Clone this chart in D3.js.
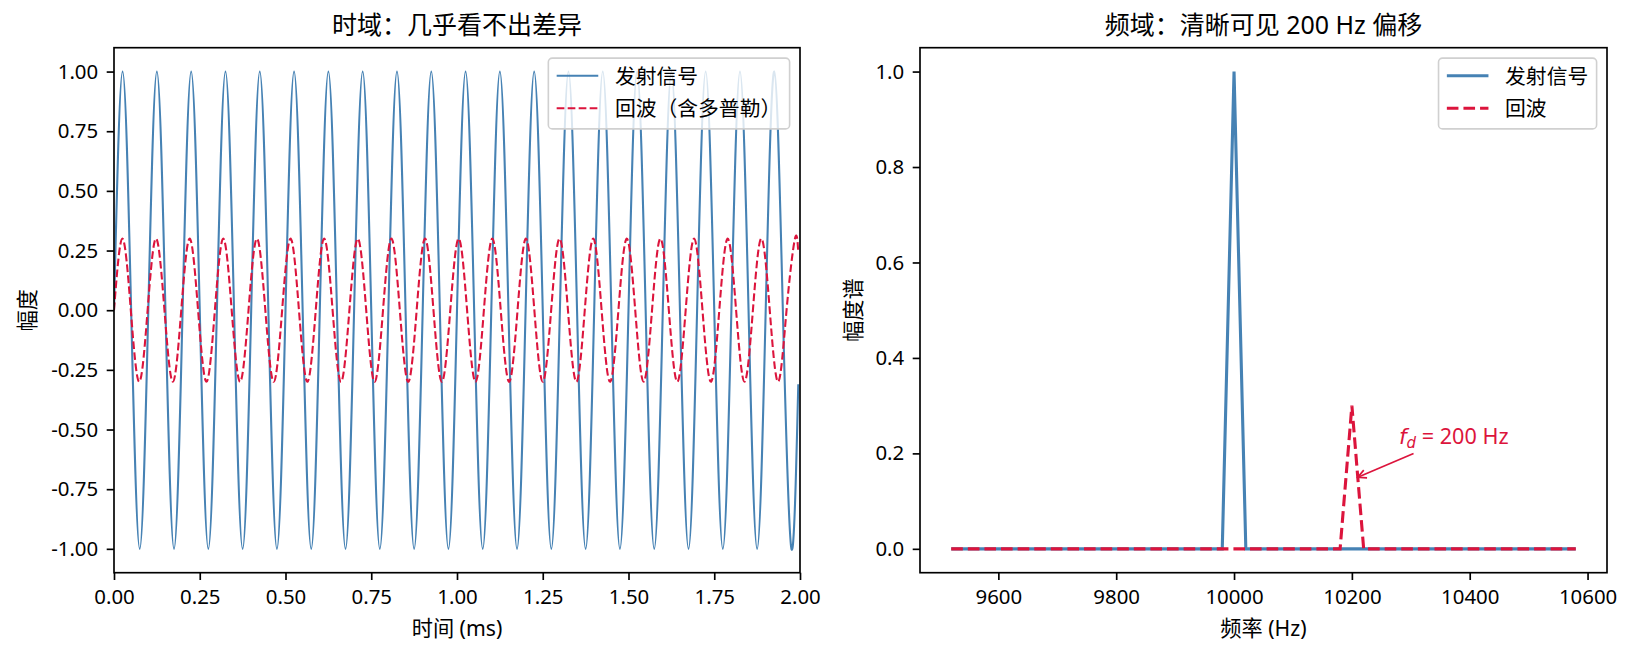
<!DOCTYPE html>
<html>
<head>
<meta charset="utf-8">
<script src="https://cdn.jsdelivr.net/npm/d3@7"></script>
<style>
  body { margin: 0; background: #fff; }
  text { font-family: "Noto Sans", "Noto Sans CJK SC", sans-serif; fill: #000; }
</style>
</head>
<body>
<svg id="chart" width="1633" height="658"></svg>
<script>
// time domain: peaks / zero crossings (ms, amplitude)
var txTime = [0,0.025,0.05,0.075,0.1,0.125,0.15,0.175,0.2,0.225,0.25,0.275,0.3,0.325,0.35,0.375,0.4,0.425,0.45,0.475,
  0.5,0.525,0.55,0.575,0.6,0.625,0.65,0.675,0.7,0.725,0.75,0.775,0.8,0.825,0.85,0.875,0.9,0.925,0.95,0.975,
  1,1.025,1.05,1.075,1.1,1.125,1.15,1.175,1.2,1.225,1.25,1.275,1.3,1.325,1.35,1.375,1.4,1.425,1.45,1.475,
  1.5,1.525,1.55,1.575,1.6,1.625,1.65,1.675,1.7,1.725,1.75,1.775,1.8,1.825,1.85,1.875,1.9,1.925,1.95,1.975,1.995];
var txAmp = [0,1,0,-1,0,1,0,-1,0,1,0,-1,0,1,0,-1,0,1,0,-1,
  0,1,0,-1,0,1,0,-1,0,1,0,-1,0,1,0,-1,0,1,0,-1,
  0,1,0,-1,0,1,0,-1,0,1,0,-1,0,1,0,-1,0,1,0,-1,
  0,1,0,-1,0,1,0,-1,0,1,0,-1,0,1,0,-1,0,1,0,-1,-0.31];

var rxTime = [0,0.0245,0.049,0.0735,0.098,0.1225,0.1471,0.1716,0.1961,0.2206,0.2451,0.2696,0.2941,0.3186,0.3431,0.3676,
  0.3922,0.4167,0.4412,0.4657,0.4902,0.5147,0.5392,0.5637,0.5882,0.6127,0.6373,0.6618,0.6863,0.7108,0.7353,0.7598,
  0.7843,0.8088,0.8333,0.8578,0.8824,0.9069,0.9314,0.9559,0.9804,1.0049,1.0294,1.0539,1.0784,1.1029,1.1275,1.152,
  1.1765,1.201,1.2255,1.25,1.2745,1.299,1.3235,1.348,1.3725,1.3971,1.4216,1.4461,1.4706,1.4951,1.5196,1.5441,
  1.5686,1.5931,1.6176,1.6422,1.6667,1.6912,1.7157,1.7402,1.7647,1.7892,1.8137,1.8382,1.8627,1.8873,1.9118,1.9363,
  1.9608,1.9853,1.995];
var rxAmp = [0,0.3,0,-0.3,0,0.3,0,-0.3,0,0.3,0,-0.3,0,0.3,0,-0.3,0,0.3,0,-0.3,
  0,0.3,0,-0.3,0,0.3,0,-0.3,0,0.3,0,-0.3,0,0.3,0,-0.3,0,0.3,0,-0.3,
  0,0.3,0,-0.3,0,0.3,0,-0.3,0,0.3,0,-0.3,0,0.3,0,-0.3,0,0.3,0,-0.3,
  0,0.3,0,-0.3,0,0.3,0,-0.3,0,0.3,0,-0.3,0,0.3,0,-0.3,0,0.3,0,-0.3,
  0,0.3,0.24];

// spectrum (Hz, magnitude)
var txFreq = [9520, 9980, 10000, 10020, 10580];
var txMag = [0, 0, 1, 0, 0];
var rxFreq = [9520, 10180, 10200, 10220, 10580];
var rxMag = [0, 0, 0.3, 0, 0];

var timeTicks = [0, 0.25, 0.5, 0.75, 1, 1.25, 1.5, 1.75, 2];
var ampTicks = [-1, -0.75, -0.5, -0.25, 0, 0.25, 0.5, 0.75, 1];
var freqTicks = [9600, 9800, 10000, 10200, 10400, 10600];
var specTicks = [0, 0.2, 0.4, 0.6, 0.8, 1.0];

var titles = ["时域：几乎看不出差异", "频域：清晰可见 200 Hz 偏移"];
var xLabels = ["时间 (ms)", "频率 (Hz)"];
var yLabels = ["幅度", "幅度谱"];
var legendLeft = ["发射信号", "回波（含多普勒）"];
var legendRight = ["发射信号", "回波"];
var annoText = [10280, 0.22];
var annoTip = [10210, 0.15];

var BLUE = "steelblue", RED = "crimson";
var plotTop = 47.7, plotBottom = 572.7;

var svg = d3.select("#chart");

function panel(x0, x1, xDomain, yDomain, xTicks, yTicks, xFmt, yFmt, idx) {
    var x = d3.scaleLinear().domain(xDomain).range([x0, x1]);
    var y = d3.scaleLinear().domain(yDomain).range([plotBottom, plotTop]);

    svg.append("clipPath").attr("id", "clip" + idx)
        .append("rect").attr("x", x0).attr("y", plotTop)
        .attr("width", x1 - x0).attr("height", plotBottom - plotTop);

    var xa = svg.append("g").attr("transform", "translate(0," + plotBottom + ")")
        .call(d3.axisBottom(x).tickValues(xTicks).tickFormat(xFmt).tickSize(7.3).tickPadding(9.3));
    var ya = svg.append("g").attr("transform", "translate(" + x0 + ",0)")
        .call(d3.axisLeft(y).tickValues(yTicks).tickFormat(yFmt).tickSize(7.3).tickPadding(8.5));
    [xa, ya].forEach(function (a) {
        a.select(".domain").remove();
        a.selectAll("line").attr("stroke", "#000").attr("stroke-width", 1.67);
        a.selectAll("text").style("font-size", "20.4px")
            .style("font-family", '"Noto Sans", "Noto Sans CJK SC", sans-serif').attr("fill", "#000");
    });

    svg.append("text").attr("x", (x0 + x1) / 2).attr("y", 34)
        .attr("text-anchor", "middle").style("font-size", "25px").text(titles[idx]);
    svg.append("text").attr("x", (x0 + x1) / 2).attr("y", 636)
        .attr("text-anchor", "middle").style("font-size", "21.2px").text(xLabels[idx]);
    var yl = idx == 0 ? 26.5 : 853;
    svg.append("text").attr("transform", "translate(" + yl + "," + (plotTop + plotBottom) / 2 + ") rotate(-90)")
        .attr("text-anchor", "middle").attr("dy", "0.38em").style("font-size", "21.2px").text(yLabels[idx]);

    return { x: x, y: y, x0: x0, x1: x1 };
}

function frame(p) {
    svg.append("rect").attr("x", p.x0).attr("y", plotTop)
        .attr("width", p.x1 - p.x0).attr("height", plotBottom - plotTop)
        .attr("fill", "none").attr("stroke", "#000").attr("stroke-width", 1.67);
}

function legend(p, labels, lw, dash) {
    var fs = 20.8, pad = 0.4 * fs, handle = 2 * fs, gap = 0.8 * fs;
    var g = svg.append("g");
    var box = g.append("rect");
    var texts = labels.map(function (l, i) {
        return g.append("text").attr("dy", "0.38em").style("font-size", fs + "px").text(l);
    });
    var tw = d3.max(texts, function (t) { return t.node().getComputedTextLength(); });
    var w = pad + handle + gap + tw + pad, h = 70.8;
    var bx = p.x1 - 0.5 * fs - w, by = plotTop + 0.5 * fs;
    box.attr("x", bx).attr("y", by).attr("width", w).attr("height", h)
        .attr("rx", 4).attr("fill", "#fff").attr("fill-opacity", 0.8)
        .attr("stroke", "#d0d0d0").attr("stroke-width", 1.6);
    var rows = [by + 17.6, by + 50.2];
    texts.forEach(function (t, i) { t.attr("x", bx + pad + handle + gap).attr("y", rows[i]); });
    g.append("line").attr("x1", bx + pad).attr("x2", bx + pad + handle)
        .attr("y1", rows[0]).attr("y2", rows[0]).attr("stroke", BLUE).attr("stroke-width", lw);
    g.append("line").attr("x1", bx + pad).attr("x2", bx + pad + handle)
        .attr("y1", rows[1]).attr("y2", rows[1]).attr("stroke", RED).attr("stroke-width", lw)
        .attr("stroke-dasharray", dash);
}

// left: time domain
var L = panel(114, 800, [0, 2], [-1.1, 1.1], timeTicks, ampTicks,
    function (d) { return d.toFixed(2); }, function (d) { return d.toFixed(2); }, 0);

var lineL = d3.line().curve(d3.curveNatural)
    .x(function (d) { return L.x(d[0]); })
    .y(function (d) { return L.y(d[1]); });

svg.append("path").datum(d3.zip(txTime, txAmp))
    .attr("clip-path", "url(#clip0)")
    .attr("fill", "none").attr("stroke", BLUE).attr("stroke-width", 2.08)
    .attr("d", lineL);
svg.append("path").datum(d3.zip(rxTime, rxAmp))
    .attr("clip-path", "url(#clip0)")
    .attr("fill", "none").attr("stroke", RED).attr("stroke-width", 2.08)
    .attr("stroke-dasharray", "7.7,3.3")
    .attr("d", lineL);
frame(L);
legend(L, legendLeft, 2.08, "7.7,3.3");

// right: spectrum
var R = panel(920, 1607, [9467, 10633], [-0.05, 1.05], freqTicks, specTicks,
    function (d) { return d; }, function (d) { return d.toFixed(1); }, 1);

var lineR = d3.line()
    .x(function (d) { return R.x(d[0]); })
    .y(function (d) { return R.y(d[1]); });

svg.append("path").datum(d3.zip(txFreq, txMag))
    .attr("clip-path", "url(#clip1)")
    .attr("fill", "none").attr("stroke", BLUE).attr("stroke-width", 3.1)
    .attr("d", lineR);
svg.append("path").datum(d3.zip(rxFreq, rxMag))
    .attr("clip-path", "url(#clip1)")
    .attr("fill", "none").attr("stroke", RED).attr("stroke-width", 3.1)
    .attr("stroke-dasharray", "11.6,5")
    .attr("d", lineR);

// annotation f_d = 200 Hz with arrow
var at = svg.append("text").attr("x", R.x(annoText[0])).attr("y", R.y(annoText[1]))
    .style("font-size", "21.6px").style("fill", RED);
at.append("tspan").style("font-style", "italic").style("font-family", "DejaVu Sans").text("f");
at.append("tspan").style("font-style", "italic").style("font-family", "DejaVu Sans")
    .style("font-size", "15px").attr("dy", 4).text("d");
at.append("tspan").attr("dy", -4).text(" = 200 Hz");

var bb = at.node().getBBox();
var cx = bb.x + bb.width / 2, cy = bb.y + bb.height / 2;
var hx = R.x(annoTip[0]), hy = R.y(annoTip[1]);
var dx = hx - cx, dy = hy - cy;
var t = Math.min((bb.width / 2) / Math.abs(dx), (bb.height / 2) / Math.abs(dy));
var len = Math.sqrt(dx * dx + dy * dy);
var ux = dx / len, uy = dy / len;
var sx = cx + dx * t + ux * 4.2, sy = cy + dy * t + uy * 4.2;
svg.append("line").attr("x1", sx).attr("y1", sy).attr("x2", hx).attr("y2", hy)
    .attr("stroke", RED).attr("stroke-width", 1.7);
var hl = 8.3, hw = 4.2;
svg.append("path")
    .attr("d", "M" + (hx - ux * hl - uy * hw) + "," + (hy - uy * hl + ux * hw) +
        "L" + hx + "," + hy +
        "L" + (hx - ux * hl + uy * hw) + "," + (hy - uy * hl - ux * hw))
    .attr("fill", "none").attr("stroke", RED).attr("stroke-width", 1.7);

frame(R);
legend(R, legendRight, 3.1, "11.6,5");
</script>
</body>
</html>
